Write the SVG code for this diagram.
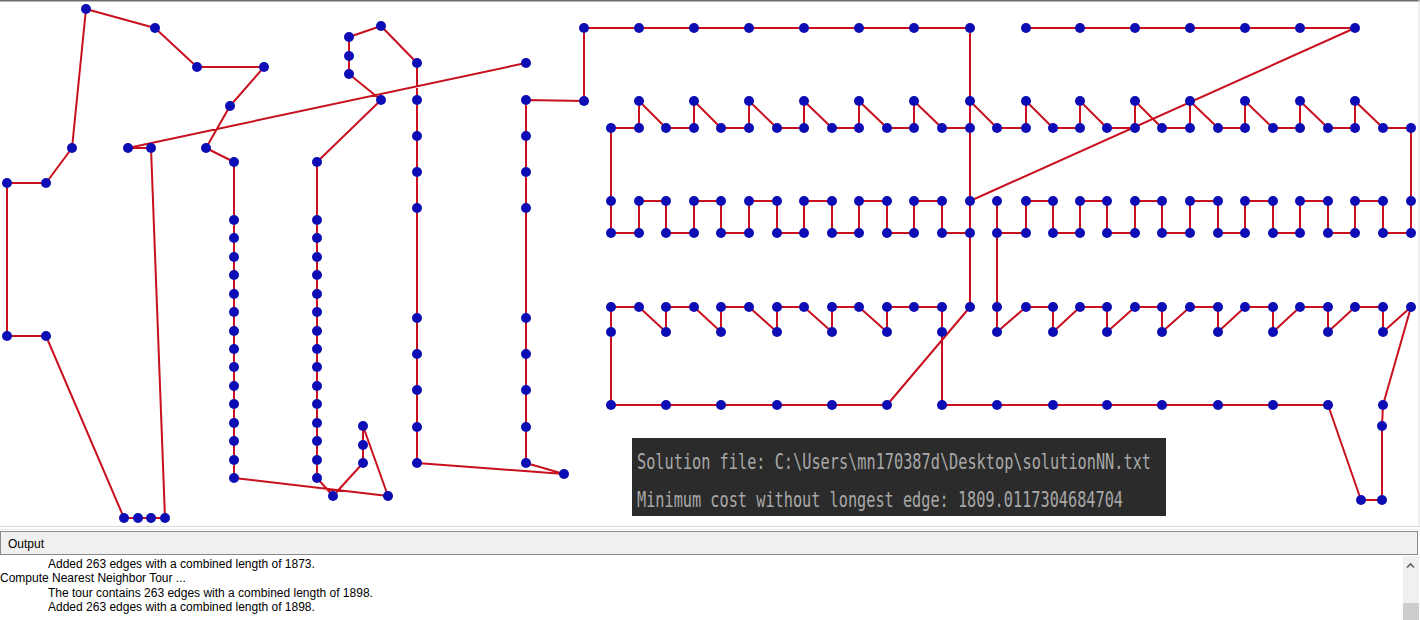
<svg xmlns="http://www.w3.org/2000/svg" width="1420" height="620" viewBox="0 0 1420 620">
<style>
.e{fill:none;stroke:#c8101e;stroke-width:2;stroke-linejoin:round;stroke-linecap:round}
.n circle{fill:#0d0db5}
.mono{font-family:"DejaVu Sans Mono","Liberation Mono",monospace;font-size:21px;fill:#a8a8a8}
.ui{font-family:"Liberation Sans","Noto Sans",Arial,sans-serif;font-size:12px;fill:#000}
</style>
<rect x="0" y="0" width="1420" height="620" fill="#ffffff"/>
<rect x="0" y="0" width="1420" height="1.5" fill="#6b6b6b"/>
<line x1="1419" y1="0" x2="1419" y2="526" stroke="#e0e0e0" stroke-width="1"/>
<g id="connectors">
<polyline class="e" points="526,63 128,148 151,148 165,518 124,518 46,336 7,336 7,183 46,183 72,148 86,9 155,28 197,67 264,67 230,106 206,148 234,162 234,478 388,496 363,426 363,463 333,496 317,478 317,162 381,100 349,74 349,37 381,26 417,63 417,463 564,474 526,463 526,100 584,101 584,28 970,28 970,307 887,405 611,405 611,307 639,307 666,332 666,307 694,307 721,332 721,307 749,307 777,332 777,307 804,307 832,332 832,307 859,307 887,332 887,307 942,307 942,405 1328,405 1361,500 1382,500 1382,426 1383,405 1411,307 1383,332 1383,307 1355,307 1328,332 1328,307 1300,307 1273,332 1273,307 1245,307 1218,332 1218,307 1190,307 1162,332 1162,307 1135,307 1107,332 1107,307 1080,307 1053,332 1053,307 1026,307 997,332 997,201"/>
<polyline class="e" points="1026,28 1355,28 970,201"/>
<polyline class="e" points="611,201 611,128 639,128 639,101 666,128 694,128 694,101 721,128 749,128 749,101 777,128 804,128 804,101 832,128 859,128 859,101 887,128 914,128 914,101 942,128 970,128"/>
<polyline class="e" points="970,101 997,128 1026,128 1026,101 1053,128 1080,128 1080,101 1107,128 1135,128 1135,101 1162,128 1190,128 1190,101 1218,128 1245,128 1245,101 1273,128 1300,128 1300,101 1328,128 1355,128 1355,101 1383,128 1411,128 1411,233 1383,233 1383,201 1355,201 1355,233 1328,233 1328,201 1300,201 1300,233 1273,233 1273,201 1245,201 1245,233 1218,233 1218,201 1190,201 1190,233 1162,233 1162,201 1135,201 1135,233 1107,233 1107,201 1080,201 1080,233 1053,233 1053,201 1026,201 1026,233 997,233"/>
<polyline class="e" points="611,201 611,233 639,233 639,201 666,201 666,233 694,233 694,201 721,201 721,233 749,233 749,201 777,201 777,233 804,233 804,201 832,201 832,233 859,233 859,201 887,201 887,233 914,233 914,201 942,201 942,233 970,233"/>
</g>
<g class="n">
<g id="n1"><circle cx="86" cy="9" r="5"/></g>
<g id="n2"><circle cx="155" cy="28" r="5"/></g>
<g id="n3"><circle cx="197" cy="67" r="5"/></g>
<g id="n4"><circle cx="264" cy="67" r="5"/></g>
<g id="n5"><circle cx="230" cy="106" r="5"/></g>
<g id="n6"><circle cx="206" cy="148" r="5"/></g>
<g id="n7"><circle cx="72" cy="148" r="5"/></g>
<g id="n8"><circle cx="46" cy="183" r="5"/></g>
<g id="n9"><circle cx="7" cy="183" r="5"/></g>
<g id="n10"><circle cx="7" cy="336" r="5"/></g>
<g id="n11"><circle cx="46" cy="336" r="5"/></g>
<g id="n12"><circle cx="128" cy="148" r="5"/></g>
<g id="n13"><circle cx="151" cy="148" r="5"/></g>
<g id="n14"><circle cx="124" cy="518" r="5"/></g>
<g id="n15"><circle cx="138" cy="518" r="5"/></g>
<g id="n16"><circle cx="151" cy="518" r="5"/></g>
<g id="n17"><circle cx="165" cy="518" r="5"/></g>
<g id="n18"><circle cx="234" cy="162" r="5"/></g>
<g id="n19"><circle cx="234" cy="220" r="5"/></g>
<g id="n20"><circle cx="234" cy="238" r="5"/></g>
<g id="n21"><circle cx="234" cy="257" r="5"/></g>
<g id="n22"><circle cx="234" cy="275" r="5"/></g>
<g id="n23"><circle cx="234" cy="294" r="5"/></g>
<g id="n24"><circle cx="234" cy="312" r="5"/></g>
<g id="n25"><circle cx="234" cy="331" r="5"/></g>
<g id="n26"><circle cx="234" cy="349" r="5"/></g>
<g id="n27"><circle cx="234" cy="367" r="5"/></g>
<g id="n28"><circle cx="234" cy="386" r="5"/></g>
<g id="n29"><circle cx="234" cy="404" r="5"/></g>
<g id="n30"><circle cx="234" cy="423" r="5"/></g>
<g id="n31"><circle cx="234" cy="441" r="5"/></g>
<g id="n32"><circle cx="234" cy="460" r="5"/></g>
<g id="n33"><circle cx="234" cy="478" r="5"/></g>
<g id="n34"><circle cx="317" cy="162" r="5"/></g>
<g id="n35"><circle cx="317" cy="220" r="5"/></g>
<g id="n36"><circle cx="317" cy="238" r="5"/></g>
<g id="n37"><circle cx="317" cy="257" r="5"/></g>
<g id="n38"><circle cx="317" cy="275" r="5"/></g>
<g id="n39"><circle cx="317" cy="294" r="5"/></g>
<g id="n40"><circle cx="317" cy="312" r="5"/></g>
<g id="n41"><circle cx="317" cy="331" r="5"/></g>
<g id="n42"><circle cx="317" cy="349" r="5"/></g>
<g id="n43"><circle cx="317" cy="367" r="5"/></g>
<g id="n44"><circle cx="317" cy="386" r="5"/></g>
<g id="n45"><circle cx="317" cy="404" r="5"/></g>
<g id="n46"><circle cx="317" cy="423" r="5"/></g>
<g id="n47"><circle cx="317" cy="441" r="5"/></g>
<g id="n48"><circle cx="317" cy="460" r="5"/></g>
<g id="n49"><circle cx="317" cy="478" r="5"/></g>
<g id="n50"><circle cx="333" cy="496" r="5"/></g>
<g id="n51"><circle cx="363" cy="426" r="5"/></g>
<g id="n52"><circle cx="363" cy="445" r="5"/></g>
<g id="n53"><circle cx="363" cy="463" r="5"/></g>
<g id="n54"><circle cx="388" cy="496" r="5"/></g>
<g id="n55"><circle cx="381" cy="26" r="5"/></g>
<g id="n56"><circle cx="349" cy="37" r="5"/></g>
<g id="n57"><circle cx="349" cy="56" r="5"/></g>
<g id="n58"><circle cx="349" cy="74" r="5"/></g>
<g id="n59"><circle cx="381" cy="100" r="5"/></g>
<g id="n60"><circle cx="417" cy="63" r="5"/></g>
<g id="n61"><circle cx="417" cy="100" r="5"/></g>
<g id="n62"><circle cx="417" cy="136" r="5"/></g>
<g id="n63"><circle cx="417" cy="172" r="5"/></g>
<g id="n64"><circle cx="417" cy="208" r="5"/></g>
<g id="n65"><circle cx="417" cy="318" r="5"/></g>
<g id="n66"><circle cx="417" cy="354" r="5"/></g>
<g id="n67"><circle cx="417" cy="390" r="5"/></g>
<g id="n68"><circle cx="417" cy="427" r="5"/></g>
<g id="n69"><circle cx="417" cy="463" r="5"/></g>
<g id="n70"><circle cx="526" cy="63" r="5"/></g>
<g id="n71"><circle cx="526" cy="100" r="5"/></g>
<g id="n72"><circle cx="526" cy="136" r="5"/></g>
<g id="n73"><circle cx="526" cy="172" r="5"/></g>
<g id="n74"><circle cx="526" cy="208" r="5"/></g>
<g id="n75"><circle cx="526" cy="318" r="5"/></g>
<g id="n76"><circle cx="526" cy="354" r="5"/></g>
<g id="n77"><circle cx="526" cy="390" r="5"/></g>
<g id="n78"><circle cx="526" cy="427" r="5"/></g>
<g id="n79"><circle cx="526" cy="463" r="5"/></g>
<g id="n80"><circle cx="564" cy="474" r="5"/></g>
<g id="n81"><circle cx="584" cy="28" r="5"/></g>
<g id="n82"><circle cx="584" cy="101" r="5"/></g>
<g id="n83"><circle cx="639" cy="28" r="5"/></g>
<g id="n84"><circle cx="694" cy="28" r="5"/></g>
<g id="n85"><circle cx="749" cy="28" r="5"/></g>
<g id="n86"><circle cx="804" cy="28" r="5"/></g>
<g id="n87"><circle cx="859" cy="28" r="5"/></g>
<g id="n88"><circle cx="914" cy="28" r="5"/></g>
<g id="n89"><circle cx="970" cy="28" r="5"/></g>
<g id="n90"><circle cx="1026" cy="28" r="5"/></g>
<g id="n91"><circle cx="1080" cy="28" r="5"/></g>
<g id="n92"><circle cx="1135" cy="28" r="5"/></g>
<g id="n93"><circle cx="1190" cy="28" r="5"/></g>
<g id="n94"><circle cx="1245" cy="28" r="5"/></g>
<g id="n95"><circle cx="1300" cy="28" r="5"/></g>
<g id="n96"><circle cx="1355" cy="28" r="5"/></g>
<g id="n97"><circle cx="639" cy="101" r="5"/></g>
<g id="n98"><circle cx="694" cy="101" r="5"/></g>
<g id="n99"><circle cx="749" cy="101" r="5"/></g>
<g id="n100"><circle cx="804" cy="101" r="5"/></g>
<g id="n101"><circle cx="859" cy="101" r="5"/></g>
<g id="n102"><circle cx="914" cy="101" r="5"/></g>
<g id="n103"><circle cx="970" cy="101" r="5"/></g>
<g id="n104"><circle cx="1026" cy="101" r="5"/></g>
<g id="n105"><circle cx="1080" cy="101" r="5"/></g>
<g id="n106"><circle cx="1135" cy="101" r="5"/></g>
<g id="n107"><circle cx="1190" cy="101" r="5"/></g>
<g id="n108"><circle cx="1245" cy="101" r="5"/></g>
<g id="n109"><circle cx="1300" cy="101" r="5"/></g>
<g id="n110"><circle cx="1355" cy="101" r="5"/></g>
<g id="n111"><circle cx="611" cy="128" r="5"/></g>
<g id="n112"><circle cx="639" cy="128" r="5"/></g>
<g id="n113"><circle cx="666" cy="128" r="5"/></g>
<g id="n114"><circle cx="694" cy="128" r="5"/></g>
<g id="n115"><circle cx="721" cy="128" r="5"/></g>
<g id="n116"><circle cx="749" cy="128" r="5"/></g>
<g id="n117"><circle cx="777" cy="128" r="5"/></g>
<g id="n118"><circle cx="804" cy="128" r="5"/></g>
<g id="n119"><circle cx="832" cy="128" r="5"/></g>
<g id="n120"><circle cx="859" cy="128" r="5"/></g>
<g id="n121"><circle cx="887" cy="128" r="5"/></g>
<g id="n122"><circle cx="914" cy="128" r="5"/></g>
<g id="n123"><circle cx="942" cy="128" r="5"/></g>
<g id="n124"><circle cx="970" cy="128" r="5"/></g>
<g id="n125"><circle cx="997" cy="128" r="5"/></g>
<g id="n126"><circle cx="1026" cy="128" r="5"/></g>
<g id="n127"><circle cx="1053" cy="128" r="5"/></g>
<g id="n128"><circle cx="1080" cy="128" r="5"/></g>
<g id="n129"><circle cx="1107" cy="128" r="5"/></g>
<g id="n130"><circle cx="1135" cy="128" r="5"/></g>
<g id="n131"><circle cx="1162" cy="128" r="5"/></g>
<g id="n132"><circle cx="1190" cy="128" r="5"/></g>
<g id="n133"><circle cx="1218" cy="128" r="5"/></g>
<g id="n134"><circle cx="1245" cy="128" r="5"/></g>
<g id="n135"><circle cx="1273" cy="128" r="5"/></g>
<g id="n136"><circle cx="1300" cy="128" r="5"/></g>
<g id="n137"><circle cx="1328" cy="128" r="5"/></g>
<g id="n138"><circle cx="1355" cy="128" r="5"/></g>
<g id="n139"><circle cx="1383" cy="128" r="5"/></g>
<g id="n140"><circle cx="1411" cy="128" r="5"/></g>
<g id="n141"><circle cx="611" cy="201" r="5"/></g>
<g id="n142"><circle cx="639" cy="201" r="5"/></g>
<g id="n143"><circle cx="666" cy="201" r="5"/></g>
<g id="n144"><circle cx="694" cy="201" r="5"/></g>
<g id="n145"><circle cx="721" cy="201" r="5"/></g>
<g id="n146"><circle cx="749" cy="201" r="5"/></g>
<g id="n147"><circle cx="777" cy="201" r="5"/></g>
<g id="n148"><circle cx="804" cy="201" r="5"/></g>
<g id="n149"><circle cx="832" cy="201" r="5"/></g>
<g id="n150"><circle cx="859" cy="201" r="5"/></g>
<g id="n151"><circle cx="887" cy="201" r="5"/></g>
<g id="n152"><circle cx="914" cy="201" r="5"/></g>
<g id="n153"><circle cx="942" cy="201" r="5"/></g>
<g id="n154"><circle cx="970" cy="201" r="5"/></g>
<g id="n155"><circle cx="997" cy="201" r="5"/></g>
<g id="n156"><circle cx="1026" cy="201" r="5"/></g>
<g id="n157"><circle cx="1053" cy="201" r="5"/></g>
<g id="n158"><circle cx="1080" cy="201" r="5"/></g>
<g id="n159"><circle cx="1107" cy="201" r="5"/></g>
<g id="n160"><circle cx="1135" cy="201" r="5"/></g>
<g id="n161"><circle cx="1162" cy="201" r="5"/></g>
<g id="n162"><circle cx="1190" cy="201" r="5"/></g>
<g id="n163"><circle cx="1218" cy="201" r="5"/></g>
<g id="n164"><circle cx="1245" cy="201" r="5"/></g>
<g id="n165"><circle cx="1273" cy="201" r="5"/></g>
<g id="n166"><circle cx="1300" cy="201" r="5"/></g>
<g id="n167"><circle cx="1328" cy="201" r="5"/></g>
<g id="n168"><circle cx="1355" cy="201" r="5"/></g>
<g id="n169"><circle cx="1383" cy="201" r="5"/></g>
<g id="n170"><circle cx="1411" cy="201" r="5"/></g>
<g id="n171"><circle cx="611" cy="233" r="5"/></g>
<g id="n172"><circle cx="639" cy="233" r="5"/></g>
<g id="n173"><circle cx="666" cy="233" r="5"/></g>
<g id="n174"><circle cx="694" cy="233" r="5"/></g>
<g id="n175"><circle cx="721" cy="233" r="5"/></g>
<g id="n176"><circle cx="749" cy="233" r="5"/></g>
<g id="n177"><circle cx="777" cy="233" r="5"/></g>
<g id="n178"><circle cx="804" cy="233" r="5"/></g>
<g id="n179"><circle cx="832" cy="233" r="5"/></g>
<g id="n180"><circle cx="859" cy="233" r="5"/></g>
<g id="n181"><circle cx="887" cy="233" r="5"/></g>
<g id="n182"><circle cx="914" cy="233" r="5"/></g>
<g id="n183"><circle cx="942" cy="233" r="5"/></g>
<g id="n184"><circle cx="970" cy="233" r="5"/></g>
<g id="n185"><circle cx="997" cy="233" r="5"/></g>
<g id="n186"><circle cx="1026" cy="233" r="5"/></g>
<g id="n187"><circle cx="1053" cy="233" r="5"/></g>
<g id="n188"><circle cx="1080" cy="233" r="5"/></g>
<g id="n189"><circle cx="1107" cy="233" r="5"/></g>
<g id="n190"><circle cx="1135" cy="233" r="5"/></g>
<g id="n191"><circle cx="1162" cy="233" r="5"/></g>
<g id="n192"><circle cx="1190" cy="233" r="5"/></g>
<g id="n193"><circle cx="1218" cy="233" r="5"/></g>
<g id="n194"><circle cx="1245" cy="233" r="5"/></g>
<g id="n195"><circle cx="1273" cy="233" r="5"/></g>
<g id="n196"><circle cx="1300" cy="233" r="5"/></g>
<g id="n197"><circle cx="1328" cy="233" r="5"/></g>
<g id="n198"><circle cx="1355" cy="233" r="5"/></g>
<g id="n199"><circle cx="1383" cy="233" r="5"/></g>
<g id="n200"><circle cx="1411" cy="233" r="5"/></g>
<g id="n201"><circle cx="611" cy="307" r="5"/></g>
<g id="n202"><circle cx="639" cy="307" r="5"/></g>
<g id="n203"><circle cx="666" cy="307" r="5"/></g>
<g id="n204"><circle cx="694" cy="307" r="5"/></g>
<g id="n205"><circle cx="721" cy="307" r="5"/></g>
<g id="n206"><circle cx="749" cy="307" r="5"/></g>
<g id="n207"><circle cx="777" cy="307" r="5"/></g>
<g id="n208"><circle cx="804" cy="307" r="5"/></g>
<g id="n209"><circle cx="832" cy="307" r="5"/></g>
<g id="n210"><circle cx="859" cy="307" r="5"/></g>
<g id="n211"><circle cx="887" cy="307" r="5"/></g>
<g id="n212"><circle cx="914" cy="307" r="5"/></g>
<g id="n213"><circle cx="942" cy="307" r="5"/></g>
<g id="n214"><circle cx="970" cy="307" r="5"/></g>
<g id="n215"><circle cx="997" cy="307" r="5"/></g>
<g id="n216"><circle cx="1026" cy="307" r="5"/></g>
<g id="n217"><circle cx="1053" cy="307" r="5"/></g>
<g id="n218"><circle cx="1080" cy="307" r="5"/></g>
<g id="n219"><circle cx="1107" cy="307" r="5"/></g>
<g id="n220"><circle cx="1135" cy="307" r="5"/></g>
<g id="n221"><circle cx="1162" cy="307" r="5"/></g>
<g id="n222"><circle cx="1190" cy="307" r="5"/></g>
<g id="n223"><circle cx="1218" cy="307" r="5"/></g>
<g id="n224"><circle cx="1245" cy="307" r="5"/></g>
<g id="n225"><circle cx="1273" cy="307" r="5"/></g>
<g id="n226"><circle cx="1300" cy="307" r="5"/></g>
<g id="n227"><circle cx="1328" cy="307" r="5"/></g>
<g id="n228"><circle cx="1355" cy="307" r="5"/></g>
<g id="n229"><circle cx="1383" cy="307" r="5"/></g>
<g id="n230"><circle cx="1411" cy="307" r="5"/></g>
<g id="n231"><circle cx="611" cy="332" r="5"/></g>
<g id="n232"><circle cx="666" cy="332" r="5"/></g>
<g id="n233"><circle cx="721" cy="332" r="5"/></g>
<g id="n234"><circle cx="777" cy="332" r="5"/></g>
<g id="n235"><circle cx="832" cy="332" r="5"/></g>
<g id="n236"><circle cx="887" cy="332" r="5"/></g>
<g id="n237"><circle cx="942" cy="332" r="5"/></g>
<g id="n238"><circle cx="997" cy="332" r="5"/></g>
<g id="n239"><circle cx="1053" cy="332" r="5"/></g>
<g id="n240"><circle cx="1107" cy="332" r="5"/></g>
<g id="n241"><circle cx="1162" cy="332" r="5"/></g>
<g id="n242"><circle cx="1218" cy="332" r="5"/></g>
<g id="n243"><circle cx="1273" cy="332" r="5"/></g>
<g id="n244"><circle cx="1328" cy="332" r="5"/></g>
<g id="n245"><circle cx="1383" cy="332" r="5"/></g>
<g id="n246"><circle cx="611" cy="405" r="5"/></g>
<g id="n247"><circle cx="666" cy="405" r="5"/></g>
<g id="n248"><circle cx="721" cy="405" r="5"/></g>
<g id="n249"><circle cx="777" cy="405" r="5"/></g>
<g id="n250"><circle cx="832" cy="405" r="5"/></g>
<g id="n251"><circle cx="887" cy="405" r="5"/></g>
<g id="n252"><circle cx="942" cy="405" r="5"/></g>
<g id="n253"><circle cx="997" cy="405" r="5"/></g>
<g id="n254"><circle cx="1053" cy="405" r="5"/></g>
<g id="n255"><circle cx="1107" cy="405" r="5"/></g>
<g id="n256"><circle cx="1162" cy="405" r="5"/></g>
<g id="n257"><circle cx="1218" cy="405" r="5"/></g>
<g id="n258"><circle cx="1273" cy="405" r="5"/></g>
<g id="n259"><circle cx="1328" cy="405" r="5"/></g>
<g id="n260"><circle cx="1383" cy="405" r="5"/></g>
<g id="n261"><circle cx="1382" cy="426" r="5"/></g>
<g id="n262"><circle cx="1361" cy="500" r="5"/></g>
<g id="n263"><circle cx="1382" cy="500" r="5"/></g>
</g>
<g id="solution-box">
<rect x="632" y="438" width="534" height="78" fill="#2b2b2b"/>
<text class="mono" x="637" y="469" textLength="514" lengthAdjust="spacingAndGlyphs">Solution file: C:\Users\mn170387d\Desktop\solutionNN.txt</text>
<text class="mono" x="637" y="507" textLength="486" lengthAdjust="spacingAndGlyphs">Minimum cost without longest edge: 1809.0117304684704</text>
</g>
<g id="output-panel">
<rect x="0" y="526" width="1420" height="94" fill="#ffffff"/>
<line x1="0" y1="526.5" x2="1420" y2="526.5" stroke="#d8d8d8"/>
<line x1="0" y1="529.5" x2="1420" y2="529.5" stroke="#e8e8e8"/>
<rect x="0.5" y="531.5" width="1417" height="23" fill="#f0f0f0" stroke="#8a8a8a"/>
<text class="ui" x="8" y="548">Output</text>
<text class="ui" x="48" y="568">Added 263 edges with a combined length of 1873.</text>
<text class="ui" x="0" y="582">Compute Nearest Neighbor Tour ...</text>
<text class="ui" x="48" y="597">The tour contains 263 edges with a combined length of 1898.</text>
<text class="ui" x="48" y="611">Added 263 edges with a combined length of 1898.</text>
<rect x="1403" y="556" width="16" height="64" fill="#f0f0f0"/>
<polyline points="1407,567.5 1410.5,564 1414,567.5" fill="none" stroke="#606060" stroke-width="1.6"/>
<rect x="1403" y="603" width="16" height="17" fill="#cdcdcd"/>
</g>
</svg>
